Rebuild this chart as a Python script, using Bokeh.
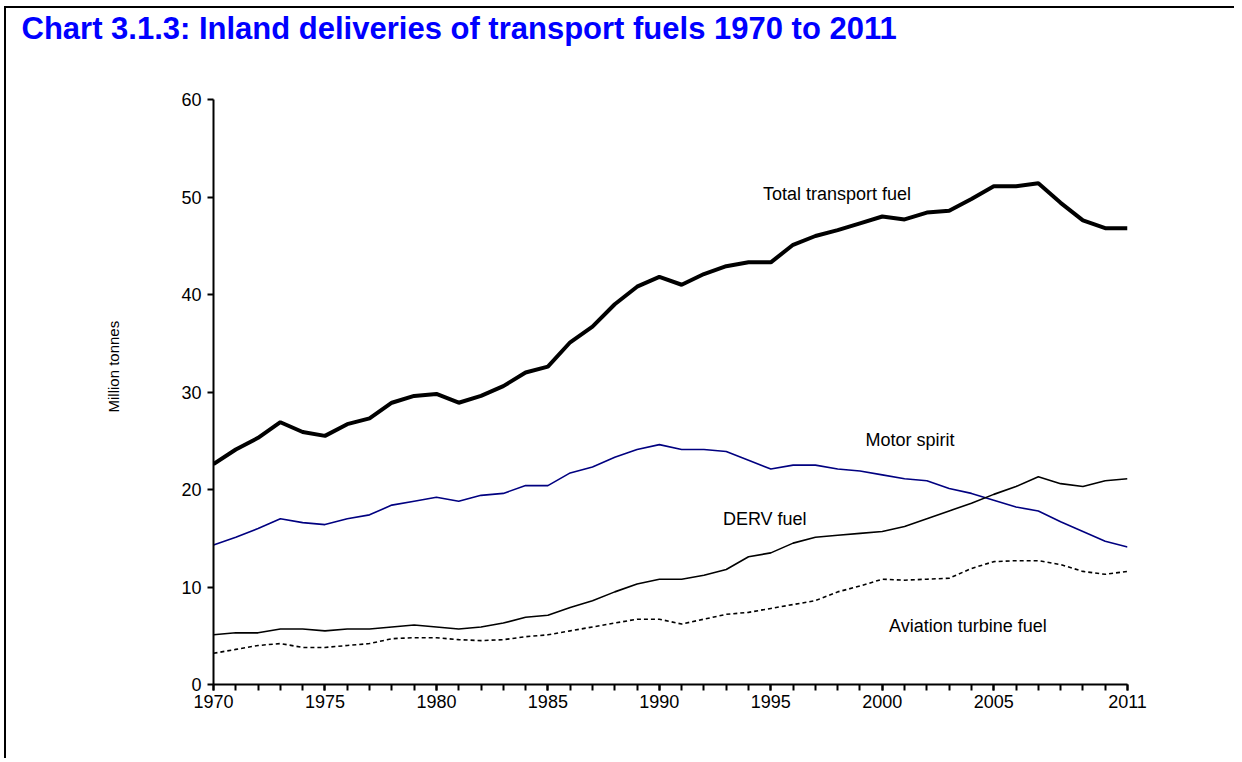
from bokeh.plotting import figure
from bokeh.models import FixedTicker, Label, Title
from bokeh.embed import file_html
from bokeh.resources import INLINE

# ---- data (million tonnes) ----
years = list(range(1970, 2012))

total_transport = [22.6, 24.1, 25.3, 26.9, 25.9, 25.5, 26.7, 27.3, 28.9, 29.6,
                   29.8, 28.9, 29.6, 30.6, 32.0, 32.6, 35.1, 36.7, 39.0, 40.8,
                   41.8, 41.0, 42.1, 42.9, 43.3, 43.3, 45.1, 46.0, 46.6, 47.3,
                   48.0, 47.7, 48.4, 48.6, 49.8, 51.1, 51.1, 51.4, 49.4, 47.6,
                   46.8, 46.8]

motor_spirit = [14.3, 15.1, 16.0, 17.0, 16.6, 16.4, 17.0, 17.4, 18.4, 18.8,
                19.2, 18.8, 19.4, 19.6, 20.4, 20.4, 21.7, 22.3, 23.3, 24.1,
                24.6, 24.1, 24.1, 23.9, 23.0, 22.1, 22.5, 22.5, 22.1, 21.9,
                21.5, 21.1, 20.9, 20.1, 19.6, 18.9, 18.2, 17.8, 16.7, 15.7,
                14.7, 14.1]

derv_fuel = [5.1, 5.3, 5.3, 5.7, 5.7, 5.5, 5.7, 5.7, 5.9, 6.1,
             5.9, 5.7, 5.9, 6.3, 6.9, 7.1, 7.9, 8.6, 9.5, 10.3,
             10.8, 10.8, 11.2, 11.8, 13.1, 13.5, 14.5, 15.1, 15.3, 15.5,
             15.7, 16.2, 17.0, 17.8, 18.6, 19.5, 20.3, 21.3, 20.6, 20.3,
             20.9, 21.1]

aviation_fuel = [3.2, 3.6, 4.0, 4.2, 3.8, 3.8, 4.0, 4.2, 4.7, 4.8,
                 4.8, 4.6, 4.5, 4.6, 4.9, 5.1, 5.5, 5.9, 6.3, 6.7,
                 6.7, 6.2, 6.7, 7.2, 7.4, 7.8, 8.2, 8.6, 9.5, 10.1,
                 10.8, 10.7, 10.8, 10.9, 11.9, 12.6, 12.7, 12.7, 12.3, 11.6,
                 11.3, 11.6]

x_tick_labels = [1970, 1975, 1980, 1985, 1990, 1995, 2000, 2005, 2011]
y_ticks = [0, 10, 20, 30, 40, 50, 60]

title_text = "Chart 3.1.3:  Inland deliveries of transport fuels 1970 to 2011"
y_label = "Million tonnes"

FONT = "Liberation Sans"

p = figure(width=1230, height=752,
           x_range=(1970, 2011), y_range=(0, 60),
           output_backend="svg", toolbar_location=None,
           min_border_left=207, min_border_right=109,
           min_border_top=91, min_border_bottom=76)

p.styles = {"margin-left": "4px", "margin-top": "6px",
            "border-left": "2px solid black", "border-top": "2px solid black"}

# blank spacer between the frame and the main title
spacer = Title(text=" ", text_font_size="1px", standoff=51)
p.add_layout(spacer, "above")

# main title
p.title.text = title_text
p.title.text_font = FONT
p.title.text_font_style = "bold"
p.title.text_font_size = "31px"
p.title.text_color = "#0000FF"
p.title.align = "left"
p.title.offset = -192
p.title.standoff = 0

p.xgrid.grid_line_color = None
p.ygrid.grid_line_color = None
p.outline_line_color = None
p.background_fill_color = "white"
p.border_fill_color = "white"

# axes
for ax in (p.xaxis[0], p.yaxis[0]):
    ax.axis_line_width = 2
    ax.axis_line_color = "black"
    ax.major_tick_line_width = 2
    ax.major_tick_line_color = "black"
    ax.major_tick_out = 6
    ax.major_tick_in = 0
    ax.major_label_text_font = FONT
    ax.major_label_text_font_size = "18px"
    ax.major_label_text_color = "black"

p.xaxis.ticker = FixedTicker(ticks=x_tick_labels, minor_ticks=years)
p.xaxis.minor_tick_line_width = 2
p.xaxis.minor_tick_line_color = "black"
p.xaxis.minor_tick_out = 6
p.xaxis.minor_tick_in = 0
p.xaxis.major_label_standoff = 4

p.yaxis.ticker = FixedTicker(ticks=y_ticks)
p.yaxis.minor_tick_line_color = None
p.yaxis.major_label_standoff = 6

# y axis title as a side title (allows shifting along the axis)
ytitle = Title(text=y_label, text_font=FONT, text_font_size="15px",
               text_font_style="normal", text_color="black",
               align="left", offset=272, standoff=113)
p.add_layout(ytitle, "left")

# series
p.line(years, total_transport, line_color="black", line_width=4)
p.line(years, motor_spirit, line_color="#000080", line_width=1.6)
p.line(years, derv_fuel, line_color="black", line_width=1.6)
p.line(years, aviation_fuel, line_color="black", line_width=1.6, line_dash="4 3")

def add_label(x, y, text):
    p.add_layout(Label(x=x, y=y, text=text, text_font=FONT,
                       text_font_size="18px", text_color="black",
                       text_baseline="middle", text_align="left"))

add_label(1994.65, 50.3, "Total transport fuel")
add_label(1999.25, 25.1, "Motor spirit")
add_label(1992.85, 17.0, "DERV fuel")
add_label(2000.3, 6.0, "Aviation turbine fuel")

open("out.html", "w").write(file_html(p, INLINE))
